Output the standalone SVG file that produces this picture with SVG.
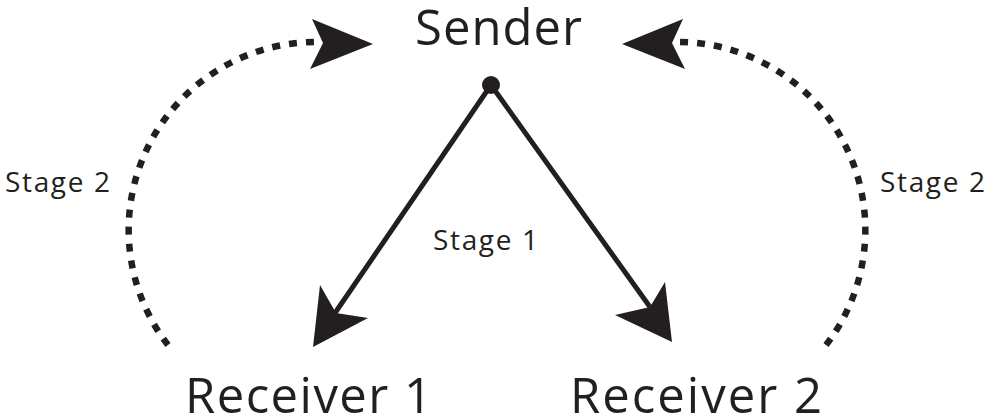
<svg xmlns="http://www.w3.org/2000/svg" width="988" height="419" viewBox="0 0 988 419">
  <style>
    .label { font-family: "Open Sans", "Noto Sans", "Liberation Sans", sans-serif; fill: #231f20; }
    .big { font-size: 49px; }
    .small { font-size: 28px; }
    .solid { fill: none; stroke: #231f20; stroke-width: 5; }
    .dotted { fill: none; stroke: #231f20; stroke-width: 6.5; stroke-dasharray: 8 9; }
    .head { fill: #231f20; }
  </style>
  <rect width="988" height="419" fill="#ffffff"/>

  <g id="sender">
    <text class="label big" x="415" y="45" textLength="167" lengthAdjust="spacing">Sender</text>
    <circle cx="491" cy="85" r="9" fill="#231f20"/>
  </g>

  <g id="receiver1">
    <text class="label big" x="185" y="413" textLength="247" lengthAdjust="spacing">Receiver 1</text>
  </g>

  <g id="receiver2">
    <text class="label big" x="570" y="413" textLength="252" lengthAdjust="spacing">Receiver 2</text>
  </g>

  <g id="connectors">
    <!-- stage 1: sender to both receivers -->
    <line class="solid" x1="491" y1="85" x2="335" y2="313"/>
    <polygon class="head" points="313,347 320,285 336,313 368,318"/>
    <line class="solid" x1="491" y1="85" x2="650" y2="307"/>
    <polygon class="head" points="672,342 665,282 650,307 615,315"/>

    <!-- stage 2: receivers back to sender -->
    <path class="dotted" d="M 168 345 A 188 188 0 0 1 322 42"/>
    <polygon class="head" points="373,44 312,19 323,43 310,69"/>
    <path class="dotted" d="M 826 345 A 188 188 0 0 0 672 42"/>
    <polygon class="head" points="622,44 683,19 672,43 685,69"/>

    <text class="label small" x="433" y="250" textLength="105" lengthAdjust="spacing">Stage 1</text>
    <text class="label small" x="5" y="192" textLength="105" lengthAdjust="spacing">Stage 2</text>
    <text class="label small" x="880" y="192" textLength="105" lengthAdjust="spacing">Stage 2</text>
  </g>
</svg>
